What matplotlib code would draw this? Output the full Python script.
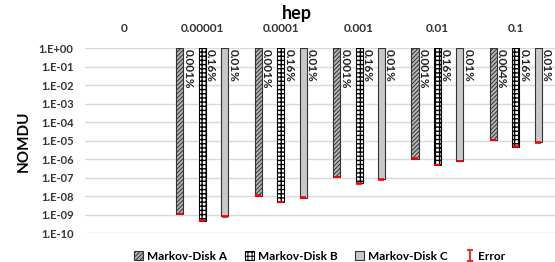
import numpy as np
import matplotlib
matplotlib.use("Agg")
import matplotlib.pyplot as plt
from matplotlib.patches import Patch

plt.rcParams['font.family'] = ['Lato', 'DejaVu Sans']
plt.rcParams['hatch.linewidth'] = 0.7

categories = ['0', '0.00001', '0.0001', '0.001', '0.01', '0.1']
disk_a = [np.nan, 1.1e-9, 1.1e-8, 1.1e-7, 1.1e-6, 1.1e-5]
disk_b = [np.nan, 4.8e-10, 5.0e-9, 5.0e-8, 4.9e-7, 4.8e-6]
disk_c = [np.nan, 8.3e-10, 8.3e-9, 8.3e-8, 8.3e-7, 8.3e-6]
labels_a = ['', '0.001%', '0.001%', '0.001%', '0.001%', '0.004%']
labels_b = ['', '0.16%', '0.16%', '0.16%', '0.16%', '0.16%']
labels_c = ['', '0.01%', '0.01%', '0.01%', '0.01%', '0.01%']
ytick_vals = [1e0, 1e-1, 1e-2, 1e-3, 1e-4, 1e-5, 1e-6, 1e-7, 1e-8, 1e-9, 1e-10]
ytick_labels = ['1.E+00', '1.E-01', '1.E-02', '1.E-03', '1.E-04', '1.E-05',
                '1.E-06', '1.E-07', '1.E-08', '1.E-09', '1.E-10']
series_names = ['Markov-Disk A', 'Markov-Disk B', 'Markov-Disk C']

fig = plt.figure(figsize=(5.55, 2.62), dpi=100)
ax = fig.add_axes([0.1526, 0.1095, 0.8474, 0.706])
ax.set_yscale('log')
ax.set_ylim(1e-10, 1)
x = np.arange(len(categories))
ax.set_xlim(-0.5, len(categories) - 0.5)

styles = [
    dict(facecolor='#b4b4b4', edgecolor='#333333', hatch='////////'),
    dict(facecolor='white', edgecolor='black', hatch='++++'),
    dict(facecolor='#c8c8c8', edgecolor='#333333', hatch=None),
]
hatch_lw = [0.7, 1.0, 0.7]
offsets = [-0.286, 0.0, 0.286]
width = 0.09
series = [disk_a, disk_b, disk_c]
texts = [labels_a, labels_b, labels_c]

ax.grid(axis='y', color='#d9d9d9', linewidth=1.0)
ax.set_axisbelow(True)

err_handle = None
handles = []
for vals, st, off, lab, name, hl in zip(series, styles, offsets, texts, series_names, hatch_lw):
    v = np.array(vals, dtype=float)
    mask = ~np.isnan(v)
    xs = x[mask] + off
    with plt.rc_context({'hatch.linewidth': hl}):
        ax.bar(xs, v[mask] - 1.0, bottom=1.0, width=width, linewidth=0.8, zorder=2, **st)
        handles.append(Patch(label=name, linewidth=0.8, **st))
    eb = ax.errorbar(xs, v[mask], yerr=[v[mask] * 0.04, v[mask] * 0.04], fmt='none',
                     ecolor='red', elinewidth=1.2, capsize=2.5, capthick=1.2, zorder=3)
    err_handle = eb
    for xi, t in zip(x + off, lab):
        if t:
            ax.text(xi + 0.105, 0.92, t, rotation=-90, ha='center', va='top',
                    fontsize=8.5, fontweight='bold', color='#222222', zorder=4)

ax.set_yticks(ytick_vals)
ax.set_yticklabels(ytick_labels, fontsize=8, fontweight='bold', color='#333333')
ax.yaxis.set_minor_locator(matplotlib.ticker.NullLocator())
ax.tick_params(axis='y', length=0, pad=8)
ax.xaxis.tick_top()
ax.set_xticks(x)
ax.set_xticklabels(categories, fontsize=8.5, fontweight='bold', color='#333333')
ax.tick_params(axis='x', length=0, pad=10)
for s in ax.spines.values():
    s.set_visible(False)

ax.set_ylabel('NOMDU', fontsize=11, fontweight='bold', labelpad=6)
fig.text(0.535, 0.95, 'hep', ha='center', va='center', fontsize=13, fontweight='bold')

handles.append(err_handle)
leg = fig.legend(handles, series_names + ['Error'], loc='center', bbox_to_anchor=(0.576, 0.022),
                 ncol=4, frameon=False, handlelength=0.8, handleheight=0.8,
                 columnspacing=1.5, handletextpad=0.3, prop={'weight': 'bold', 'size': 8.5})
fig.savefig('out.png', dpi=100)
